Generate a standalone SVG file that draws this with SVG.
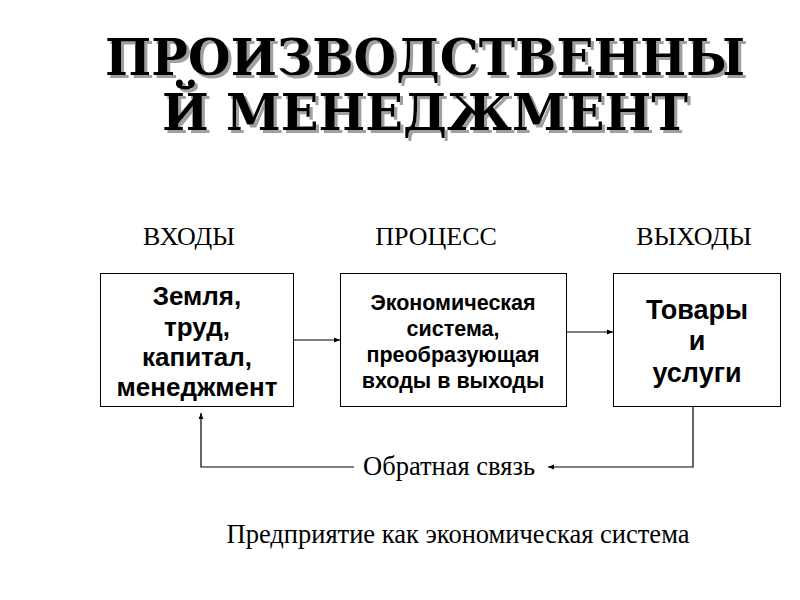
<svg xmlns="http://www.w3.org/2000/svg" width="800" height="600" viewBox="0 0 800 600">
<style>
.title{font-family:"DejaVu Serif","Liberation Serif",serif;font-weight:bold;font-size:51px;text-anchor:middle;fill:#000}
.hdr{font-family:"Liberation Serif","Times New Roman",serif;font-size:26px;text-anchor:middle;fill:#000}
.box{fill:#fff;stroke:#000;stroke-width:1}
.bt{font-family:"Liberation Sans",Arial,sans-serif;font-weight:bold;text-anchor:middle;fill:#000}
.ln{fill:none;stroke:#000;stroke-width:1.2}
.cap{font-family:"Liberation Serif","Times New Roman",serif;font-size:26.5px;text-anchor:middle;fill:#000}
</style>
<defs>
<marker id="ah" viewBox="0 0 10 10" refX="10" refY="5" markerWidth="6" markerHeight="6" markerUnits="userSpaceOnUse" orient="auto">
<path d="M0,1 L10,5 L0,9 z" fill="#000"/>
</marker>
<filter id="shadow" x="-5%" y="-30%" width="110%" height="160%">
<feFlood flood-color="#a0a0a0" result="c"/>
<feComposite in="c" in2="SourceAlpha" operator="in" result="s"/>
<feOffset in="s" dx="3" dy="3" result="o"/>
<feMerge><feMergeNode in="o"/><feMergeNode in="SourceGraphic"/></feMerge>
</filter>
</defs>
<rect width="800" height="600" fill="#fff"/>
<g id="title" filter="url(#shadow)">
<text class="title" x="425" y="75" textLength="640" lengthAdjust="spacingAndGlyphs">ПРОИЗВОДСТВЕННЫ</text>
<text class="title" x="425" y="130" textLength="526" lengthAdjust="spacingAndGlyphs">Й МЕНЕДЖМЕНТ</text>
</g>
<g id="headers">
<text class="hdr" x="189" y="245">ВХОДЫ</text>
<text class="hdr" x="436" y="245">ПРОЦЕСС</text>
<text class="hdr" x="694" y="245">ВЫХОДЫ</text>
</g>
<g id="inputs">
<rect class="box" x="100.5" y="273.5" width="193" height="133"/>
<text class="bt" font-size="26" x="197" y="305">Земля,</text>
<text class="bt" font-size="26" x="197" y="336">труд,</text>
<text class="bt" font-size="26" x="197" y="366">капитал,</text>
<text class="bt" font-size="26" x="197" y="396">менеджмент</text>
</g>
<g id="process">
<rect class="box" x="340.5" y="273.5" width="226" height="133"/>
<text class="bt" font-size="21.5" x="453" y="310">Экономическая</text>
<text class="bt" font-size="21.5" x="453" y="336">система,</text>
<text class="bt" font-size="21.5" x="453" y="362">преобразующая</text>
<text class="bt" font-size="21.5" x="453" y="388">входы в выходы</text>
</g>
<g id="outputs">
<rect class="box" x="613.5" y="273.5" width="167" height="133"/>
<text class="bt" font-size="27" x="697" y="319">Товары</text>
<text class="bt" font-size="27" x="697" y="350">и</text>
<text class="bt" font-size="27" x="697" y="382">услуги</text>
</g>
<g id="connectors">
<line class="ln" x1="294" y1="340" x2="340" y2="340" marker-end="url(#ah)"/>
<line class="ln" x1="567" y1="332" x2="613" y2="332" marker-end="url(#ah)"/>
<polyline class="ln" points="693,407 693,467 548,467" marker-end="url(#ah)"/>
<polyline class="ln" points="354,467 201,467 201,413" marker-end="url(#ah)"/>
</g>
<g id="feedback">
<text class="cap" x="449" y="475">Обратная связь</text>
</g>
<g id="caption">
<text class="cap" x="458" y="543">Предприятие как экономическая система</text>
</g>
</svg>
